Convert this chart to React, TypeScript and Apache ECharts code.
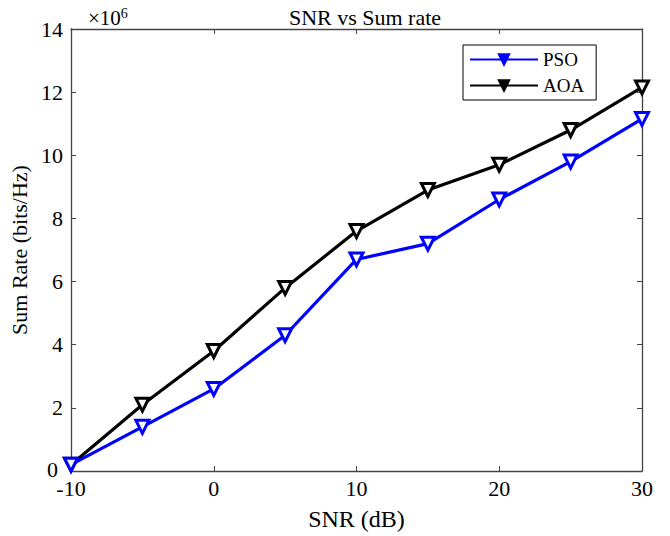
import React, { useEffect, useRef } from "react";
import * as echarts from "echarts";

const snr = [-10, -5, 0, 5, 10, 15, 20, 25, 30];
const pso = [0.2, 1.4, 2.6, 4.3, 6.7, 7.2, 8.6, 9.8, 11.15];
const aoa = [0.2, 2.1, 3.8, 5.8, 7.6, 8.9, 9.7, 10.8, 12.15];
const xTicks = [-10, 0, 10, 20, 30];
const yMax = 14;

const FONT = '"Liberation Serif", "Times New Roman", serif';

export default function App() {
  const ref = useRef<HTMLDivElement>(null);
  useEffect(() => {
    if (!ref.current) return;
    const chart = echarts.init(ref.current, undefined, { renderer: "svg" });
    const axisLine = { show: true, onZero: false, lineStyle: { color: "#444", width: 1.3 } };
    const axisTick = { show: true, inside: true, length: 5, lineStyle: { color: "#444", width: 1 } };
    const mk = (name: string, vals: number[], color: string) => ({
      name,
      type: "line",
      data: snr.map((x, i) => [x, vals[i]]),
      lineStyle: { color, width: 3.2 },
      itemStyle: { color: "#fff", borderColor: color, borderWidth: 3 },
      symbol: "triangle",
      symbolRotate: 180,
      symbolSize: 13,
      showSymbol: true,
      z: name === "PSO" ? 3 : 2,
    });
    chart.setOption({
      animation: false,
      backgroundColor: "#fff",
      textStyle: { fontFamily: FONT, color: "#000" },
      title: {
        text: "SNR vs Sum rate",
        left: 360,
        top: 1,
        textAlign: "center",
        textStyle: { fontFamily: FONT, fontSize: 22, fontWeight: "normal", color: "#000" },
      },
      grid: { left: 71, right: 28, top: 29, bottom: 64 },
      legend: {
        left: 463,
        top: 45,
        orient: "vertical",
        itemWidth: 68,
        itemHeight: 13,
        itemGap: 7,
        padding: [5, 12, 5, 6],
        borderColor: "#000",
        borderWidth: 1,
        backgroundColor: "#fff",
        textStyle: { fontFamily: FONT, fontSize: 19, color: "#000" },
        data: [
          { name: "PSO", itemStyle: { color: "#0000ff", borderColor: "#0000ff" } },
          { name: "AOA", itemStyle: { color: "#000", borderColor: "#000" } },
        ],
      },
      xAxis: [
        {
          type: "value",
          min: -10,
          max: 30,
          interval: 10,
          name: "SNR (dB)",
          nameLocation: "middle",
          nameGap: 36,
          nameTextStyle: { fontFamily: FONT, fontSize: 24, color: "#000" },
          axisLine,
          axisTick,
          splitLine: { show: false },
          axisLabel: {
            fontFamily: FONT,
            fontSize: 22,
            lineHeight: 17,
            color: "#000",
            margin: 9,
            customValues: xTicks,
          },
        },
        {
          type: "value",
          position: "top",
          min: -10,
          max: 30,
          interval: 10,
          axisLine,
          axisTick,
          axisLabel: { show: false },
          splitLine: { show: false },
        },
      ],
      yAxis: [
        {
          type: "value",
          min: 0,
          max: yMax,
          interval: 2,
          name: "Sum Rate (bits/Hz)",
          nameLocation: "middle",
          nameGap: 38,
          nameTextStyle: { fontFamily: FONT, fontSize: 22, color: "#000" },
          axisLine,
          axisTick,
          splitLine: { show: false },
          axisLabel: {
            fontFamily: FONT,
            fontSize: 22,
            lineHeight: 17,
            color: "#000",
            margin: 8,
            formatter: (v: number) => (v === 0 ? "{z|0}" : String(v)),
            rich: {
              z: { fontFamily: FONT, fontSize: 22, lineHeight: 17, padding: [0, 5, 4, 0] },
            },
          },
        },
        {
          type: "value",
          position: "right",
          min: 0,
          max: yMax,
          interval: 2,
          axisLine,
          axisTick,
          axisLabel: { show: false },
          splitLine: { show: false },
        },
      ],
      graphic: [
        {
          type: "text",
          left: 88,
          top: 6,
          style: {
            text: "{a|×10}{b|6}",
            rich: {
              a: { fontFamily: FONT, fontSize: 21, fill: "#000" },
              b: { fontFamily: FONT, fontSize: 14, fill: "#000", verticalAlign: "top", padding: [0, 0, 9, 0] },
            },
          },
        },
      ],
      series: [mk("PSO", pso, "#0000ff"), mk("AOA", aoa, "#000")],
    });
    return () => chart.dispose();
  }, []);
  return (
    <div
      ref={ref}
      style={{ position: "fixed", left: 0, top: 0, width: 670, height: 536, background: "#fff" }}
    />
  );
}
